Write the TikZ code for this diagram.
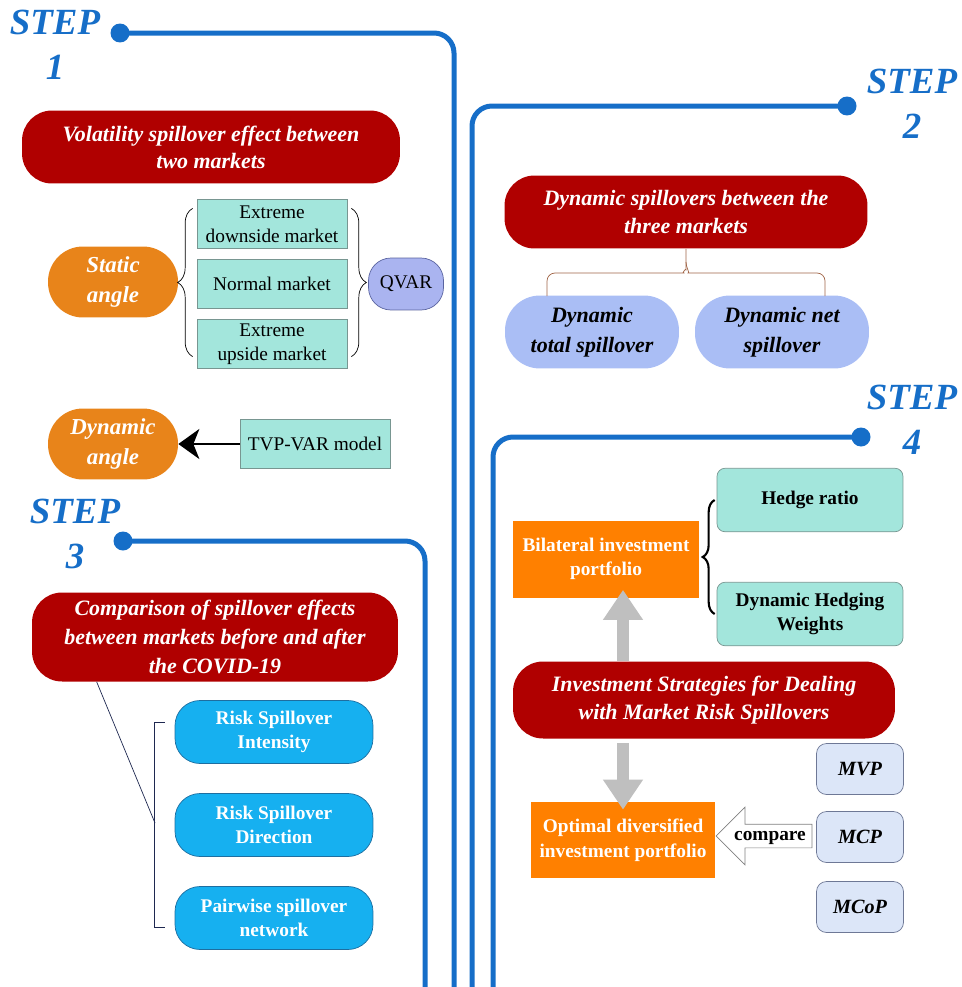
\documentclass[tikz,border=0pt]{standalone}
\usepackage{fontspec}
\setmainfont{Liberation Serif}
\usetikzlibrary{arrows.meta,positioning,shapes.arrows,decorations.pathreplacing,calc}
\tikzset{every node/.append style={align=center}}
\definecolor{stepblue}{RGB}{22,110,200}
\definecolor{headred}{RGB}{176,0,0}
\definecolor{tealbox}{RGB}{163,230,220}
\definecolor{tealedge}{RGB}{120,150,145}
\definecolor{angleorange}{RGB}{232,132,26}
\definecolor{portorange}{RGB}{255,128,0}
\definecolor{qvarblue}{RGB}{170,180,240}
\definecolor{qvaredge}{RGB}{90,100,160}
\definecolor{spillblue}{RGB}{170,190,245}
\definecolor{riskcyan}{RGB}{22,176,240}
\definecolor{riskedge}{RGB}{30,110,160}
\definecolor{strategyblue}{RGB}{220,230,248}
\definecolor{strategyedge}{RGB}{110,120,150}
\definecolor{branchbrown}{RGB}{160,100,70}
\definecolor{bracketnavy}{RGB}{30,40,80}

\begin{document}
\begin{tikzpicture}[x=0.02cm, y=-0.02cm,
    stepline/.style={stepblue, line width=0.1cm, rounded corners=0.4cm},
    stepdot/.style={circle, fill=stepblue, inner sep=0pt, minimum size=0.38cm},
    steplabel/.style={text=stepblue, font=\fontsize{21}{25.5}\selectfont\bfseries\itshape},
    heading/.style={fill=headred, text=white, rounded corners=0.6cm, font=\fontsize{12.5}{15.5}\selectfont\bfseries\itshape},
    angle/.style={fill=angleorange, text=white, rounded corners=0.7cm, minimum width=2.6cm, minimum height=1.42cm, font=\fontsize{13}{17}\selectfont\bfseries\itshape},
    market/.style={draw=tealedge, fill=tealbox, minimum width=3cm, minimum height=0.97cm, inner sep=1pt, font=\fontsize{11}{13.5}\selectfont},
    model/.style={draw=qvaredge, fill=qvarblue, rounded corners=0.45cm, minimum width=1.5cm, minimum height=1.04cm, font=\fontsize{11}{13.5}\selectfont},
    spill/.style={fill=spillblue, rounded corners=0.7cm, minimum width=3.48cm, minimum height=1.46cm, font=\fontsize{12.5}{17}\selectfont\bfseries\itshape},
    risk/.style={draw=riskedge, fill=riskcyan, text=white, rounded corners=0.5cm, minimum width=3.96cm, minimum height=1.26cm, font=\fontsize{11}{14}\selectfont\bfseries},
    hedge/.style={draw=tealedge, fill=tealbox, rounded corners=0.16cm, minimum width=3.72cm, minimum height=1.27cm, font=\fontsize{11}{14}\selectfont\bfseries},
    portfolio/.style={fill=portorange, text=white, minimum width=3.72cm, minimum height=1.54cm, font=\fontsize{11}{14}\selectfont\bfseries},
    strategy/.style={draw=strategyedge, fill=strategyblue, rounded corners=0.2cm, minimum width=1.74cm, minimum height=1.02cm, font=\fontsize{11.5}{14}\selectfont\bfseries\itshape},
    bracegroup/.style={decorate, decoration={brace, amplitude=0.3cm}},
    bigarrow/.style={gray!50, line width=0.24cm, -{Triangle[length=0.6cm, width=0.76cm]}},
    cmparrow/.style={single arrow, draw=gray, fill=white, shape border rotate=180, minimum height=1.88cm, single arrow head extend=0.34cm, single arrow head indent=0cm, inner ysep=0.06cm, text height=0.26cm, text depth=0.08cm, font=\fontsize{11}{13}\selectfont\bfseries},
]
    \useasboundingbox (0,0) rectangle (962,987);

    % Step tracks
    \coordinate (e1) at (454,987);
    \coordinate (e2) at (472,987);
    \coordinate (e3) at (425,987);
    \coordinate (e4) at (493,987);
    \node[stepdot] (d1) at (120,33) {};
    \node[stepdot] (d2) at (847,106) {};
    \node[stepdot] (d3) at (123,541) {};
    \node[stepdot] (d4) at (861,437) {};
    \draw[stepline] (d1.center) -| (e1);
    \draw[stepline] (d2.center) -| (e2);
    \draw[stepline] (d3.center) -| (e3);
    \draw[stepline] (d4.center) -| (e4);
    \node[steplabel] (step1) at (55,45) {STEP\\1};
    \node[steplabel] (step2) at (912,104) {STEP\\2};
    \node[steplabel] (step3) at (75,534) {STEP\\3};
    \node[steplabel] (step4) at (912,420) {STEP\\4};

    % Step 1
    \node[heading, minimum width=7.56cm, minimum height=1.46cm] (vol) at (211,147) {Volatility spillover effect between\\two markets};
    \node[angle] (static) at (113,282) {Static\\angle};
    \node[market] (downside) at (272,224) {Extreme\\downside market};
    \node[market] (normal) at (272,284) {Normal market};
    \node[market] (upside) at (272,344) {Extreme\\upside market};
    \node[model] (qvar) at (406,284) {QVAR};
    \node[angle] (dynangle) at (113,444) {Dynamic\\angle};
    \node[market] (tvp) at (315,444) {TVP-VAR model};
    \draw[bracegroup] ([shift={(-0.08cm,0.24cm)}]upside.south west) -- ([shift={(-0.08cm,-0.18cm)}]downside.north west);
    \draw[bracegroup] ([shift={(0.08cm,-0.18cm)}]downside.north east) -- ([shift={(0.08cm,0.24cm)}]upside.south east);
    \draw[line width=1.5pt, -{Stealth[length=0.42cm, width=0.6cm, inset=0.12cm]}] (tvp.west) -- (dynangle.east);

    % Step 2
    \node[heading, minimum width=7.26cm, minimum height=1.46cm] (dynsp) at (686,212) {Dynamic spillovers between the\\three markets};
    \node[spill] (total) at (592,332) {Dynamic\\total spillover};
    \node[spill] (net) at (782,332) {Dynamic net\\spillover};
    \coordinate (bl) at (547,296);
    \coordinate (br) at (825,296);
    \draw[branchbrown, rounded corners=0.16cm] (bl) |- (676,273) to[out=0, in=-90] (686,262) -- (dynsp.south);
    \draw[branchbrown, rounded corners=0.16cm] (br) |- (696,273) to[out=180, in=-90] (686,262);

    % Step 3
    \node[heading, minimum width=7.32cm, minimum height=1.78cm, font=\fontsize{12.5}{16.5}\selectfont\bfseries\itshape] (covid) at (215,637) {Comparison of spillover effects\\between markets before and after\\the COVID-19};
    \node[risk] (intensity) at (274,732) {Risk Spillover\\Intensity};
    \node[risk] (direction) at (274,825) {Risk Spillover\\Direction};
    \node[risk] (network) at (274,918) {Pairwise spillover\\network};
    \coordinate (brk) at (155,823);
    \draw[bracketnavy] ([shift={(-0.2cm,0.2cm)}]intensity.west) -- ++(-10,0) |- ([shift={(-0.2cm,-0.18cm)}]network.west);
    \draw[bracketnavy] ([xshift=1.3cm]covid.south west) -- (brk);

    % Step 4
    \node[hedge] (hedgeratio) at (810,500) {Hedge ratio};
    \node[hedge] (weights) at (810,614) {Dynamic Hedging\\Weights};
    \node[portfolio] (bilat) at (606,559) {Bilateral investment\\portfolio};
    \node[heading, minimum width=7.64cm, minimum height=1.54cm] (invest) at (704,700) {Investment Strategies for Dealing\\with Market Risk Spillovers};
    \node[portfolio, minimum width=3.7cm, minimum height=1.52cm] (optimal) at (623,840) {Optimal diversified\\investment portfolio};
    \node[strategy] (mvp) at (860,769) {MVP};
    \node[strategy] (mcp) at (860,837) {MCP};
    \node[strategy] (mcop) at (860,907) {MCoP};
    \node[cmparrow] (compare) at (770,836) {compare};
    \draw[bracegroup, line width=1.2pt, decoration={amplitude=0.24cm}] ([xshift=-0.04cm]weights.west) -- ([xshift=-0.04cm]hedgeratio.west);
    \draw[bigarrow, shorten >=-0.16cm] (invest.north -| optimal) -- (bilat.south -| optimal);
    \draw[bigarrow, shorten <=0.08cm, shorten >=-0.16cm] (invest.south -| optimal) -- (optimal.north);

\end{tikzpicture}
\end{document}
